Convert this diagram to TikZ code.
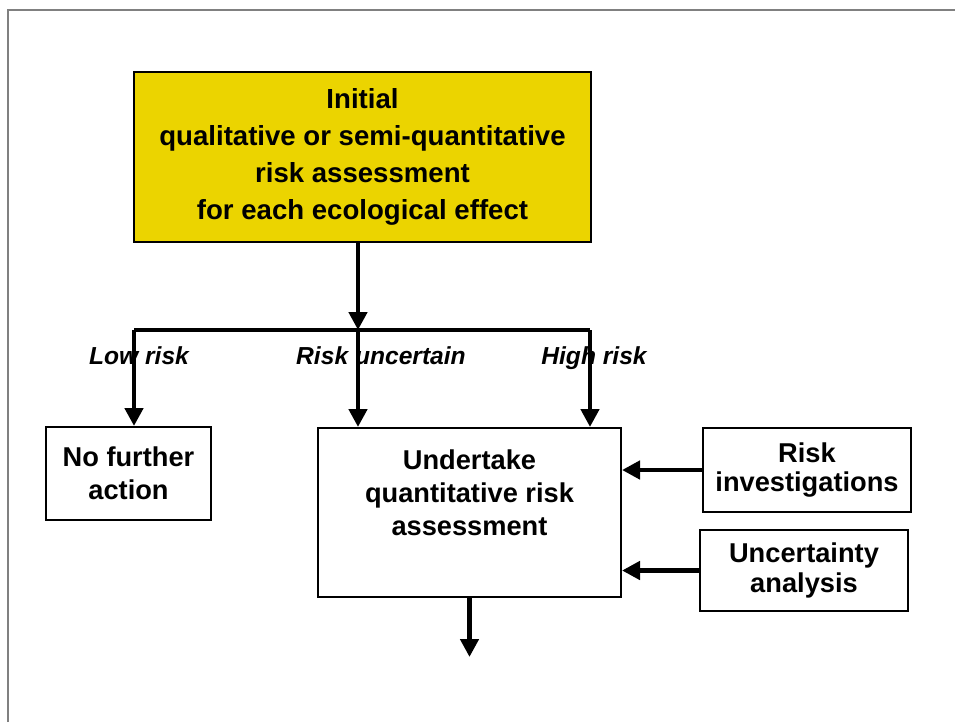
\documentclass[tikz,border=0pt]{standalone}
\usepackage{fontspec}
\setmainfont{Liberation Sans}
\usetikzlibrary{arrows.meta}
\definecolor{boxyellow}{RGB}{235,212,0}
\tikzset{>={Triangle[length=3.6mm,width=3.6mm]}}
\tikzset{
    box/.style={draw=black, line width=0.4mm, align=center, inner sep=0pt,
        font=\bfseries\fontsize{15.5}{19}\selectfont},
    flow/.style={line width=0.9mm},
    branch/.style={anchor=base, font=\bfseries\itshape\fontsize{14}{16}\selectfont}
}

\begin{document}
\begin{tikzpicture}[x=0.2mm, y=-0.2mm]
    \useasboundingbox (0,0) rectangle (955,722);

    % frame
    \draw[gray, line width=0.4mm] (8,722) -- (8,10) -- (955,10);

    % boxes
    \node[box, fill=boxyellow, minimum width=91.4mm, minimum height=34mm,
        font=\bfseries\fontsize{15.7}{21.2}\selectfont] (init) at (362.5,157)
        {Initial\\qualitative or semi-quantitative\\risk assessment\\for each ecological effect};
    \node[box, minimum width=33mm, minimum height=18.6mm] (nofurther) at (128.5,473.5)
        {No further\\action};
    \node[box, minimum width=60.6mm, minimum height=33.8mm] (quant) at (469.5,512.5) {};
    \node[box, draw=none, font=\bfseries\fontsize{15.5}{18.8}\selectfont] (quanttext)
        at (469.5,493) {Undertake\\quantitative risk\\assessment};
    \node[box, minimum width=41.6mm, minimum height=16.8mm,
        font=\bfseries\fontsize{15.5}{16.5}\selectfont] (riskinv) at (807,470)
        {Risk\\investigations};
    \node[box, minimum width=41.6mm, minimum height=16.2mm,
        font=\bfseries\fontsize{15.5}{17}\selectfont] (uncert) at (804,570.5)
        {Uncertainty\\analysis};

    \coordinate (split) at (358,330);
    \coordinate (lowc) at (134,330);
    \coordinate (highc) at (590,330);
    \coordinate (endc) at (469.5,657);

    % Labels
    \node[branch] (lowlbl) at (139,364) {Low risk};
    \node[branch] (uncertlbl) at (381,364) {Risk uncertain};
    \node[branch] (highlbl) at (594,364) {High risk};

    \draw[flow, ->] (split |- init.south) -- (split);
    \draw[flow] (lowc) -- (highc);
    \draw[flow, ->] (lowc) -- (lowc |- nofurther.north);
    \draw[flow, ->] (split) -- (split |- quant.north);
    \draw[flow, ->] (highc) -- (highc |- quant.north);

    \draw[flow, ->] (riskinv.west) -- (quant.east |- riskinv.west);
    \draw[flow, ->] (uncert.west) -- (quant.east |- uncert.west);
    \draw[flow, ->] (quant.south) -- (endc);
\end{tikzpicture}
\end{document}
